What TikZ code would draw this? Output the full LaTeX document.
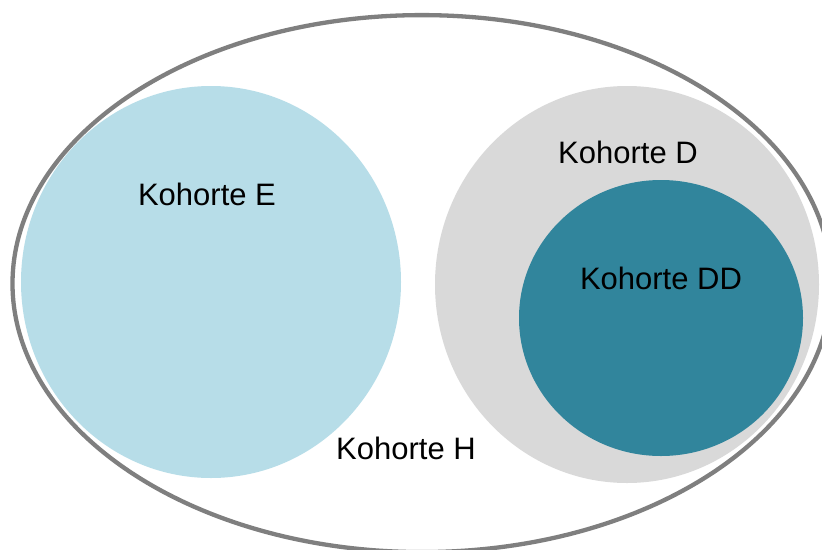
\documentclass[tikz,border=0pt]{standalone}
\usepackage{fontspec}
\setmainfont{Liberation Sans}
\usetikzlibrary{shapes.geometric}
\definecolor{frameGray}{HTML}{7F7F7F}
\definecolor{setE}{HTML}{B7DDE8}
\definecolor{setD}{HTML}{D9D9D9}
\definecolor{setDD}{HTML}{31859C}
\tikzset{
  blob/.style={ellipse, inner sep=0pt, outer sep=0pt},
  lbl/.style={font=\fontsize{31}{36}\selectfont, text=black, inner sep=0pt}
}
\begin{document}
\begin{tikzpicture}[x=1pt, y=-1pt]
  \useasboundingbox (0,0) rectangle (822,549);
  % population frame
  \node[blob, draw=frameGray, line width=4.3pt, fill=white,
        minimum width=819pt, minimum height=537pt] (H) at (422,283.6) {};
  % cohorts
  \node[blob, fill=setE, minimum width=380pt, minimum height=392pt] (E) at (211,282) {};
  \node[blob, fill=setD, minimum width=384pt, minimum height=397pt] (D) at (627,284.5) {};
  \node[blob, fill=setDD, minimum width=284pt, minimum height=276pt] (DD) at (661,318) {};
  % labels
  \node[lbl] (lE) at (207,194) {Kohorte E};
  \node[lbl] (lD) at (628,152) {Kohorte D};
  \node[lbl] (lDD) at (661,278) {Kohorte DD};
  \node[lbl] (lH) at (406,448) {Kohorte H};
\end{tikzpicture}
\end{document}
